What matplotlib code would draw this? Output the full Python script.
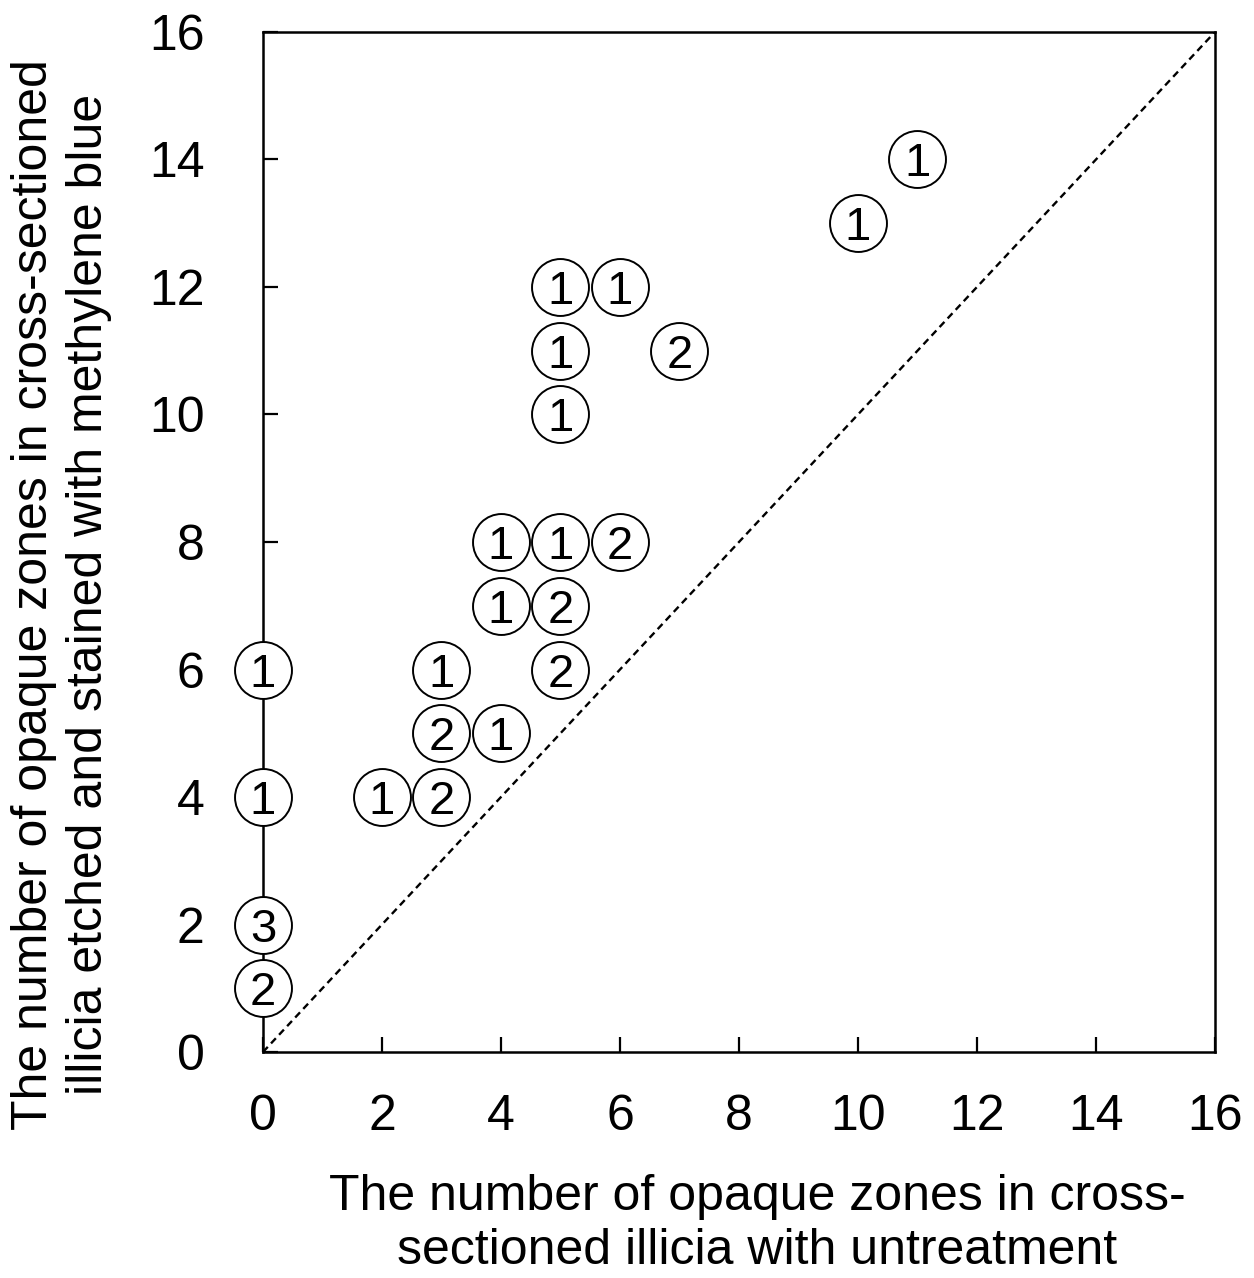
import matplotlib
matplotlib.use("Agg")
import matplotlib.pyplot as plt

plt.rcParams['font.family'] = ['Liberation Sans', 'DejaVu Sans']

# zone counts: untreated (x), etched + methylene blue (y), number of illicia (n)
untreated = [0, 0, 0, 0, 2, 3, 3, 4, 3, 5, 4, 5, 4, 5, 6, 5, 5, 7, 5, 6, 10, 11]
stained = [1, 2, 4, 6, 4, 4, 5, 5, 6, 6, 7, 7, 8, 8, 8, 10, 11, 11, 12, 12, 13, 14]
counts = [2, 3, 1, 1, 1, 2, 2, 1, 1, 2, 1, 2, 1, 1, 2, 1, 1, 2, 1, 1, 1, 1]
ticks = [0, 2, 4, 6, 8, 10, 12, 14, 16]

fig = plt.figure(figsize=(12.54, 12.78), dpi=100)
ax = fig.add_axes([0.2097, 0.1768, 0.7592, 0.7982])

# 1:1 reference line
ax.plot([0, 16], [0, 16], color='black', lw=1.7, ls=(0, (3, 2)), zorder=1)

ax.scatter(untreated, stained, s=1680, facecolor='white', edgecolor='black',
           linewidths=1.4, zorder=5, clip_on=False)
for x, y, n in zip(untreated, stained, counts):
    ax.text(x, y, str(n), ha='center', va='center_baseline', fontsize=34,
            zorder=6, clip_on=False)

ax.set_xlim(0, 16)
ax.set_ylim(0, 16)
ax.set_xticks(ticks)
ax.set_yticks(ticks)
ax.tick_params(direction='in', length=11, width=1.6, labelsize=36,
               color='black')
ax.tick_params(axis='x', pad=30)
ax.tick_params(axis='y', pad=42)
for sp in ax.spines.values():
    sp.set_linewidth(1.8)

fig.text(0.6037, 0.0425,
         'The number of opaque zones in cross-\nsectioned illicia with untreatment',
         fontsize=36, linespacing=1.22, ha='center', va='center',
         multialignment='center')
fig.text(0.0494, 0.535,
         'The number of opaque zones in cross-sectioned\n'
         'illicia etched and stained with methylene blue',
         fontsize=36, linespacing=1.25, ha='center', va='center',
         rotation=90, multialignment='center')

fig.savefig('out.png', dpi=100)
